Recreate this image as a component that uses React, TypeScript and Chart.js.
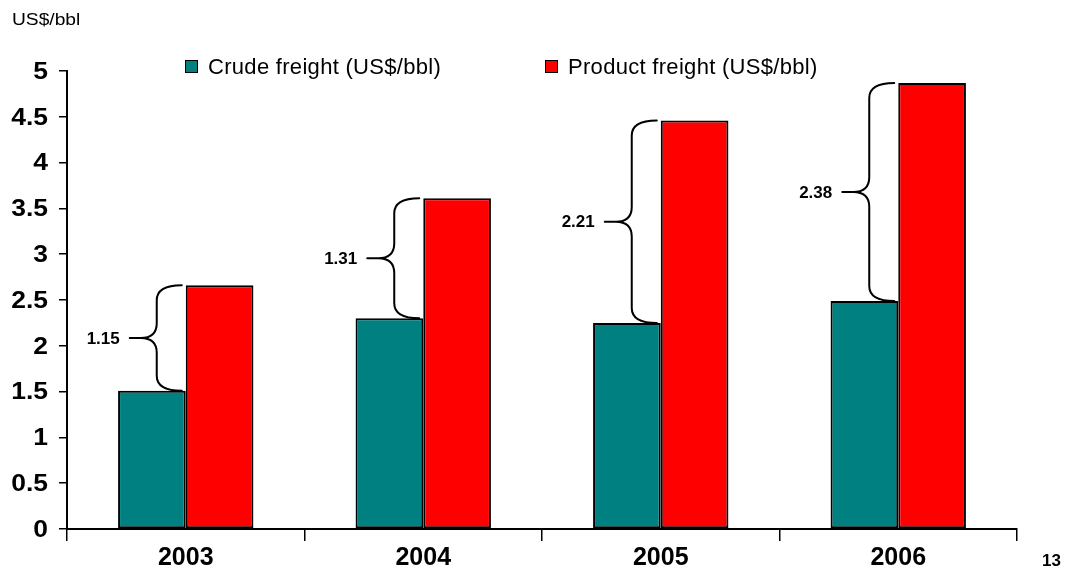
import { useEffect, useRef } from 'react';
import { Chart, registerables } from 'chart.js';

Chart.register(...registerables);

// Freight rates per barrel, by year
const years = ['2003', '2004', '2005', '2006'];
const crudeFreight = [1.51, 2.3, 2.25, 2.49];
const productFreight = [2.66, 3.61, 4.46, 4.87];
const seriesNames = ['Crude freight (US$/bbl)', 'Product freight (US$/bbl)'];
const seriesColors = ['#008080', '#FF0000'];
const unitLabel = 'US$/bbl';
const pageNumber = '13';

const FONT = '"Liberation Sans", Arial, Helvetica, sans-serif';

// Text drawn with a horizontal stretch (used for the y-axis labels and unit caption)
function drawStretched(
  ctx: CanvasRenderingContext2D,
  text: string,
  x: number,
  y: number,
  sx: number,
  align: CanvasTextAlign
) {
  ctx.save();
  ctx.translate(x, y);
  ctx.scale(sx, 1);
  ctx.textAlign = align;
  ctx.fillText(text, 0, 0);
  ctx.restore();
}

// Curly brace opening to the right, spanning yTop..yBot, ending at x = xb
function drawBrace(ctx: CanvasRenderingContext2D, xb: number, yTop: number, yBot: number) {
  const xe = xb - 4;
  const xv = xb - 29;
  const xt = xb - 56;
  const yMid = (yTop + yBot) / 2;
  const r = Math.min(15, (yBot - yTop) / 4);
  ctx.beginPath();
  ctx.moveTo(xe, yTop);
  ctx.quadraticCurveTo(xv, yTop, xv, yTop + r);
  ctx.lineTo(xv, yMid - r);
  ctx.quadraticCurveTo(xv, yMid, xv - 16, yMid);
  ctx.lineTo(xt, yMid);
  ctx.moveTo(xv - 16, yMid);
  ctx.quadraticCurveTo(xv, yMid, xv, yMid + r);
  ctx.lineTo(xv, yBot - r);
  ctx.quadraticCurveTo(xv, yBot, xe, yBot);
  ctx.stroke();
  return { tipX: xt, midY: yMid };
}

const freightDecorations = {
  id: 'freightDecorations',
  afterDraw(chart: any) {
    const ctx: CanvasRenderingContext2D = chart.ctx;
    const yScale = chart.scales.y;
    ctx.save();
    ctx.fillStyle = '#000';

    // y-axis tick labels
    ctx.font = `bold 23px ${FONT}`;
    ctx.textBaseline = 'middle';
    yScale.ticks.forEach((t: any) => {
      const y = yScale.getPixelForValue(t.value);
      drawStretched(ctx, String(t.value), 48, y + 1.5, 1.15, 'right');
    });

    // unit caption
    ctx.font = `16px ${FONT}`;
    ctx.textBaseline = 'alphabetic';
    drawStretched(ctx, unitLabel, 12, 25, 1.2, 'left');

    // legend
    const legendItems = [
      { box: 185, text: 208 },
      { box: 545, text: 568 },
    ];
    ctx.font = `22px ${FONT}`;
    ctx.textAlign = 'left';
    ctx.textBaseline = 'alphabetic';
    (ctx as any).letterSpacing = '0.3px';
    legendItems.forEach((it, i) => {
      ctx.fillStyle = seriesColors[i];
      ctx.fillRect(it.box, 60, 12, 12);
      ctx.strokeStyle = '#000';
      ctx.lineWidth = 1;
      ctx.strokeRect(it.box + 0.5, 60.5, 12, 12);
      ctx.fillStyle = '#000';
      ctx.fillText(chart.data.datasets[i].label, it.text, 73.5);
    });
    (ctx as any).letterSpacing = '0px';

    // braces showing the product/crude spread
    const crudeMeta = chart.getDatasetMeta(0);
    const productMeta = chart.getDatasetMeta(1);
    ctx.strokeStyle = '#000';
    ctx.lineWidth = 2;
    ctx.lineCap = 'round';
    ctx.font = `bold 17px ${FONT}`;
    ctx.textAlign = 'right';
    ctx.textBaseline = 'middle';
    years.forEach((_, i) => {
      const p = productMeta.data[i].getProps(['x', 'y', 'width'], true);
      const c = crudeMeta.data[i].getProps(['y'], true);
      const xb = p.x - p.width / 2;
      const { tipX, midY } = drawBrace(ctx, xb, p.y, c.y);
      const spread = (productFreight[i] - crudeFreight[i]).toFixed(2);
      ctx.fillText(spread, tipX - 10, midY + 1);
    });

    // page number
    ctx.font = `bold 17px ${FONT}`;
    ctx.textAlign = 'left';
    ctx.textBaseline = 'alphabetic';
    ctx.fillText(pageNumber, 1042, 566);

    ctx.restore();
  },
};

export default function App() {
  const canvasRef = useRef<HTMLCanvasElement | null>(null);

  useEffect(() => {
    if (!canvasRef.current) return;
    const chart = new Chart(canvasRef.current, {
      type: 'bar',
      data: {
        labels: years,
        datasets: [
          {
            label: seriesNames[0],
            data: crudeFreight,
            backgroundColor: seriesColors[0],
            borderColor: '#000',
            borderWidth: 2,
            borderSkipped: false,
            categoryPercentage: 0.57,
            barPercentage: 1,
          },
          {
            label: seriesNames[1],
            data: productFreight,
            backgroundColor: seriesColors[1],
            borderColor: '#000',
            borderWidth: 2,
            borderSkipped: false,
            categoryPercentage: 0.57,
            barPercentage: 1,
          },
        ],
      },
      options: {
        responsive: false,
        animation: false,
        devicePixelRatio: 1,
        layout: { padding: { left: 0, right: 55, top: 71, bottom: 0 } },
        plugins: {
          legend: { display: false },
          tooltip: { enabled: false },
          title: { display: false },
        },
        scales: {
          x: {
            grid: {
              offset: true,
              drawOnChartArea: false,
              color: '#000',
              lineWidth: 1.5,
              tickLength: 12,
            },
            border: { color: '#000', width: 2 },
            ticks: {
              color: '#000',
              font: { family: FONT, size: 25, weight: 'bold' },
              padding: 2,
              maxRotation: 0,
            },
            afterFit: (s: any) => {
              s.height = 41;
            },
          },
          y: {
            min: 0,
            max: 5,
            ticks: { stepSize: 0.5, display: false },
            grid: {
              drawOnChartArea: false,
              color: '#000',
              lineWidth: 1.5,
              tickLength: 8,
            },
            border: { color: '#000', width: 2 },
            afterFit: (s: any) => {
              s.width = 67;
            },
          },
        },
      },
      plugins: [freightDecorations],
    });
    return () => chart.destroy();
  }, []);

  return (
    <div style={{ position: 'fixed', left: 0, top: 0, width: 1072, height: 570, background: '#fff' }}>
      <canvas ref={canvasRef} width={1072} height={570} />
    </div>
  );
}
